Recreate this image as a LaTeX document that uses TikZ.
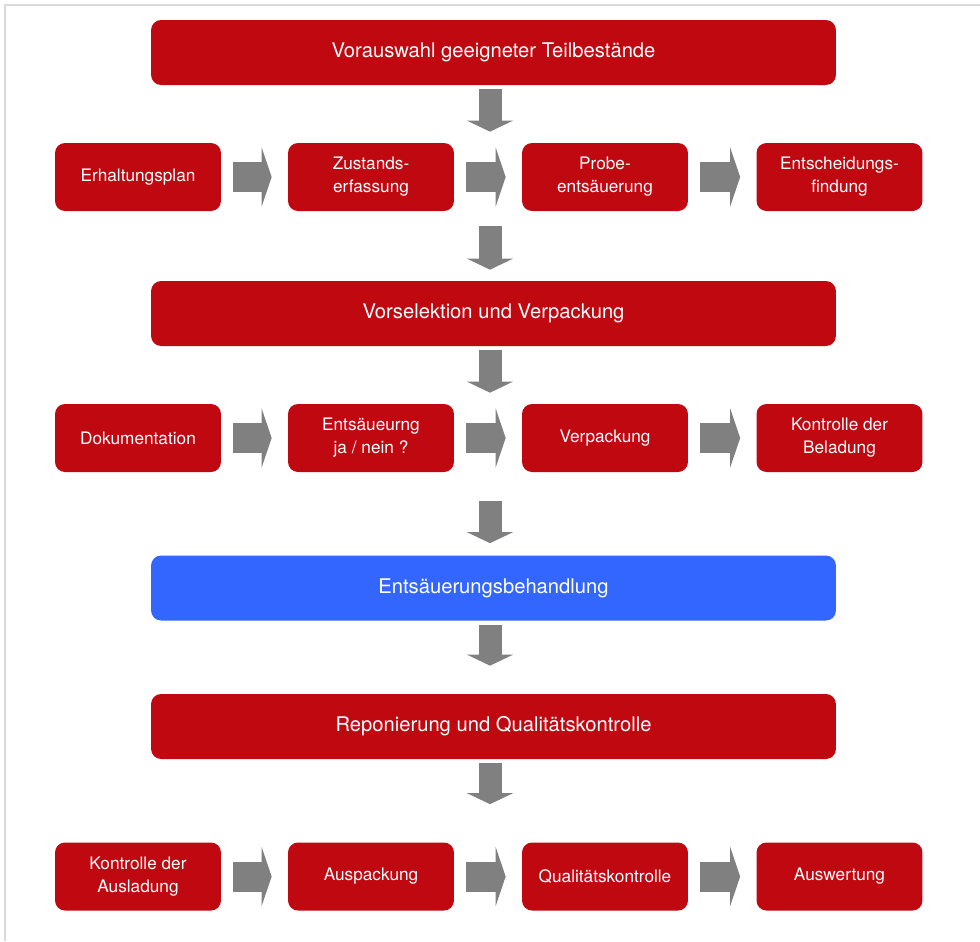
\documentclass[tikz,border=0pt]{standalone}
\usepackage{fontspec}
\setmainfont{TeX Gyre Heros}
\usetikzlibrary{arrows.meta}

\definecolor{boxred}{RGB}{192,8,16}
\definecolor{boxblue}{RGB}{51,102,255}
\definecolor{flowgray}{RGB}{128,128,128}
\definecolor{framegray}{RGB}{218,218,218}

\tikzset{
  bigbox/.style={fill=boxred, text=white, rounded corners=0.2cm, inner sep=0pt,
    minimum width=13.7cm, minimum height=1.3cm, font=\fontsize{11.5}{14}\selectfont},
  smallbox/.style={fill=boxred, text=white, rounded corners=0.2cm, inner sep=0pt,
    minimum width=3.32cm, minimum height=1.36cm, align=center,
    font=\fontsize{9.8}{13}\selectfont},
  hflow/.style={draw=flowgray, line width=0.6cm,
    -{Triangle[length=0.2cm,width=1.18cm,line width=0pt]},
    shorten <=0.24cm, shorten >=0.32cm},
  vflow/.style={draw=flowgray, line width=0.46cm,
    -{Triangle[length=0.22cm,width=0.92cm,line width=0pt]}}
}

\begin{document}
\begin{tikzpicture}[x=0.02cm, y=-0.02cm]
\useasboundingbox (0,0) rectangle (980,941);
\draw[framegray, line width=0.03cm] (5,941) -- (5,5) -- (980,5);
\coordinate (axis) at (490,0);

\node[bigbox] (vorauswahl) at (493.5,52.5) {Vorauswahl geeigneter Teilbestände};

\node[smallbox] (erhalt) at (138,177) {Erhaltungsplan};
\node[smallbox] (zustand) at (371,177) {Zustands-\\erfassung};
\node[smallbox] (probe) at (605,177) {Probe-\\entsäuerung};
\node[smallbox] (entscheid) at (839.5,177) {Entscheidungs-\\findung};

\node[bigbox] (vorsel) at (493.5,313.5) {Vorselektion und Verpackung};

\node[smallbox] (doku) at (138,438) {Dokumentation};
\node[smallbox] (jane) at (371,438) {Entsäueurng\\ja / nein ?};
\node[smallbox] (verpack) at (605,438) {Verpackung};
\node[smallbox] (beladung) at (839.5,438) {Kontrolle der\\Beladung};

\node[bigbox, fill=boxblue] (behandlung) at (493.5,588) {Entsäuerungsbehandlung};

\node[bigbox] (reponier) at (493.5,726.5) {Reponierung und Qualitätskontrolle};

\node[smallbox] (ausladung) at (138,876.5) {Kontrolle der\\Ausladung};
\node[smallbox] (auspack) at (371,876.5) {Auspackung};
\node[smallbox] (qualitaet) at (605,876.5) {Qualitätskontrolle};
\node[smallbox] (auswertung) at (839.5,876.5) {Auswertung};

\draw[hflow] (erhalt) -- (zustand);
\draw[hflow] (zustand) -- (probe);
\draw[hflow] (probe) -- (entscheid);
\draw[hflow] (doku) -- (jane);
\draw[hflow] (jane) -- (verpack);
\draw[hflow] (verpack) -- (beladung);
\draw[hflow] (ausladung) -- (auspack);
\draw[hflow] (auspack) -- (qualitaet);
\draw[hflow] (qualitaet) -- (auswertung);

\draw[vflow, shorten <=0.08cm, shorten >=0.22cm] (vorauswahl.south -| axis) -- (zustand.north -| axis);
\draw[vflow, shorten <=0.3cm, shorten >=0.22cm] (zustand.south -| axis) -- (vorsel.north -| axis);
\draw[vflow, shorten <=0.08cm, shorten >=0.22cm] (vorsel.south -| axis) -- (jane.north -| axis);
\draw[vflow, shorten <=0.58cm, shorten >=0.24cm] (jane.south -| axis) -- (behandlung.north -| axis);
\draw[vflow, shorten <=0.08cm, shorten >=0.56cm] (behandlung.south -| axis) -- (reponier.north -| axis);
\draw[vflow, shorten <=0.08cm, shorten >=0.76cm] (reponier.south -| axis) -- (auspack.north -| axis);
\end{tikzpicture}
\end{document}
